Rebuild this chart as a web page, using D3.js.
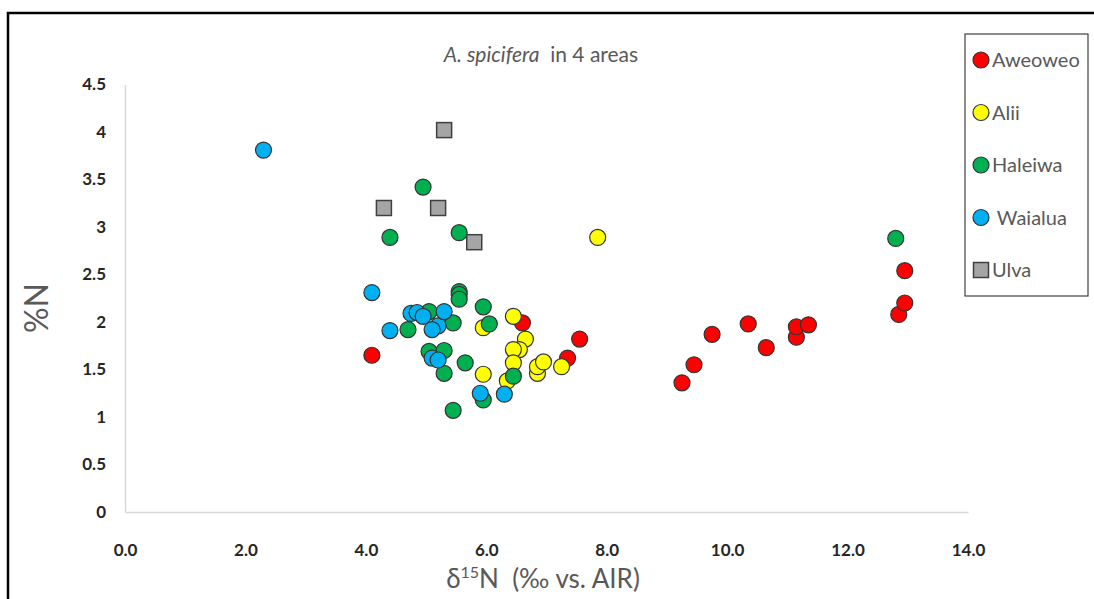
<!DOCTYPE html>
<html>
<head>
<meta charset="utf-8">
<script src="https://cdn.jsdelivr.net/npm/d3@7"></script>
<style>
	body { margin: 0; background: #fff; }
	svg { display: block; font-family: Lato, "Open Sans", sans-serif; }
	text { white-space: pre; }
</style>
</head>
<body>
<svg id="chart" width="1094" height="599"></svg>
<script>
// series values
var aweoweoX = [4.1, 6.6, 7.35, 7.55, 9.25, 9.45, 9.75, 10.35, 10.65, 11.15, 11.15, 11.35, 12.85, 12.95, 12.95];
var aweoweoY = [1.65, 1.99, 1.62, 1.82, 1.36, 1.55, 1.87, 1.98, 1.73, 1.84, 1.95, 1.97, 2.08, 2.2, 2.54];

var aliiX = [7.85, 6.45, 5.95, 6.65, 6.55, 6.45, 6.45, 5.95, 6.35, 6.85, 6.85, 6.95, 7.25];
var aliiY = [2.89, 2.06, 1.94, 1.82, 1.71, 1.71, 1.57, 1.45, 1.38, 1.46, 1.53, 1.58, 1.53];

var haleiwaX = [4.7, 5.05, 5.45, 5.55, 5.55, 5.55, 5.95, 6.05, 5.05, 5.3, 5.3, 5.65, 6.45, 5.95, 5.45, 4.95, 4.4, 5.55, 12.8];
var haleiwaY = [1.92, 2.11, 1.99, 2.32, 2.29, 2.24, 2.16, 1.98, 1.69, 1.7, 1.46, 1.57, 1.43, 1.18, 1.07, 3.42, 2.89, 2.94, 2.88];

var waialuaX = [2.3, 4.1, 4.4, 4.75, 4.85, 4.95, 5.2, 5.1, 5.3, 5.1, 5.2, 5.9, 6.3];
var waialuaY = [3.81, 2.31, 1.91, 2.09, 2.1, 2.06, 1.96, 1.92, 2.11, 1.62, 1.6, 1.25, 1.24];

var ulvaX = [5.3, 4.3, 5.2, 5.8];
var ulvaY = [4.02, 3.2, 3.2, 2.84];

var seriesNames = ['Aweoweo', 'Alii', 'Haleiwa', ' Waialua', 'Ulva'];
var xTicks = [0, 2, 4, 6, 8, 10, 12, 14];
var yTicks = [0, 0.5, 1, 1.5, 2, 2.5, 3, 3.5, 4, 4.5];

// build series list (drawing order = excel order)
var series = [
	{ name: seriesNames[0], xs: aweoweoX, ys: aweoweoY, fill: '#ff0000', shape: 'circle' },
	{ name: seriesNames[1], xs: aliiX, ys: aliiY, fill: '#ffff00', shape: 'circle' },
	{ name: seriesNames[2], xs: haleiwaX, ys: haleiwaY, fill: '#00b050', shape: 'circle' },
	{ name: seriesNames[3], xs: waialuaX, ys: waialuaY, fill: '#00b0f0', shape: 'circle' },
	{ name: seriesNames[4], xs: ulvaX, ys: ulvaY, fill: '#a5a5a5', shape: 'square' }
];

var svg = d3.select('#chart');

var x = d3.scaleLinear().domain([0, 14]).range([125, 968]);
var y = d3.scaleLinear().domain([0, 4.5]).range([512, 84.5]);

// outer frame, runs off the right and bottom
svg.append('rect')
	.attr('x', 8).attr('y', 13)
	.attr('width', 1200).attr('height', 700)
	.attr('fill', 'none')
	.attr('stroke', '#000')
	.attr('stroke-width', 2.5);

// axes
var xAxis = d3.axisBottom(x)
	.tickValues(xTicks)
	.tickFormat(d3.format('.1f'))
	.tickSize(0)
	.tickPadding(32);
var yAxis = d3.axisLeft(y)
	.tickValues(yTicks)
	.tickFormat((d) => String(d))
	.tickSize(0)
	.tickPadding(19);

var gx = svg.append('g').attr('transform', 'translate(0,' + y(0) + ')').call(xAxis);
var gy = svg.append('g').attr('transform', 'translate(' + x(0) + ',0)').call(yAxis);

[gx, gy].forEach((g) => {
	g.select('.domain').attr('stroke', '#d9d9d9').attr('stroke-width', 1.5);
	g.selectAll('text')
		.attr('fill', '#262626')
		.style('font-family', 'Lato, sans-serif')
		.style('font-size', '17px')
		.style('font-weight', 'bold');
});

// title
var title = svg.append('text')
	.attr('x', 541).attr('y', 62)
	.attr('text-anchor', 'middle')
	.attr('fill', '#595959')
	.style('font-size', '21px');
title.append('tspan').style('font-style', 'italic').text('A. spicifera');
title.append('tspan').text('  in 4 areas');

// axis titles
svg.append('text')
	.attr('transform', 'translate(48,308) rotate(-90)')
	.attr('text-anchor', 'middle')
	.attr('fill', '#595959')
	.style('font-size', '32px')
	.text('%N');

var xt = svg.append('text')
	.attr('x', 543).attr('y', 588)
	.attr('text-anchor', 'middle')
	.attr('fill', '#595959')
	.style('font-size', '26px');
xt.append('tspan').text('δ');
xt.append('tspan').attr('dy', -10).style('font-size', '16px').text('15');
xt.append('tspan').attr('dy', 10).text('N  (‰ vs. AIR)');

// markers
var drawMarks = (g, s, pts) => {
	if (s.shape === 'square')
	{
		g.selectAll('rect').data(pts).enter().append('rect')
			.attr('x', (d) => d[0] - 7.5).attr('y', (d) => d[1] - 7.5)
			.attr('width', 15).attr('height', 15)
			.attr('fill', s.fill).attr('stroke', '#404040').attr('stroke-width', 1.5);
	}
	else
	{
		g.selectAll('circle').data(pts).enter().append('circle')
			.attr('cx', (d) => d[0]).attr('cy', (d) => d[1])
			.attr('r', 8)
			.attr('fill', s.fill).attr('stroke', '#333').attr('stroke-width', 1.2);
	}
};

series.forEach((s) => {
	var pts = s.xs.map((v, i) => [x(v), y(s.ys[i])]);
	drawMarks(svg.append('g').attr('class', 'series'), s, pts);
});

// legend
var legend = svg.append('g');
legend.append('rect')
	.attr('x', 965).attr('y', 34)
	.attr('width', 123).attr('height', 262)
	.attr('fill', '#fff')
	.attr('stroke', '#404040')
	.attr('stroke-width', 1.2);

var legY = d3.scalePoint().domain(seriesNames).range([60, 270]);
series.forEach((s) => {
	var ly = legY(s.name);
	drawMarks(legend.append('g'), s, [[981, ly]]);
	legend.append('text')
		.attr('x', 992).attr('y', ly)
		.attr('dy', '0.35em')
		.attr('fill', '#595959')
		.style('font-size', '20px')
		.text(s.name);
});
</script>
</body>
</html>
